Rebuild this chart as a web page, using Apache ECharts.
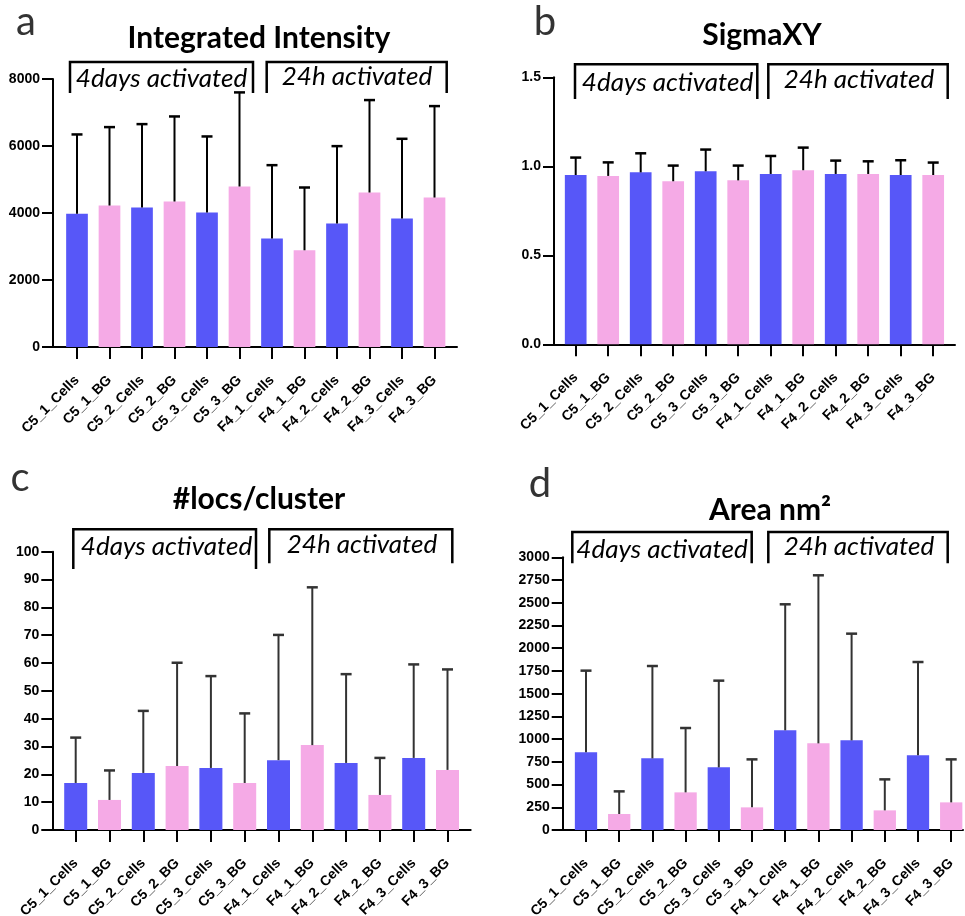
<!DOCTYPE html>
<html>
<head>
<meta charset="utf-8">
<script src="https://cdn.jsdelivr.net/npm/echarts@6/dist/echarts.min.js"></script>
<style>
html,body{margin:0;padding:0;background:#fff;}
#chart{width:965px;height:916px;}
</style>
</head>
<body>
<div id="chart"></div>
<script>
// ---- data ----
const categories = ['C5_1_Cells','C5_1_BG','C5_2_Cells','C5_2_BG','C5_3_Cells','C5_3_BG','F4_1_Cells','F4_1_BG','F4_2_Cells','F4_2_BG','F4_3_Cells','F4_3_BG'];

const intensityMean = [3980,4223,4163,4343,4014,4791,3237,2888,3685,4612,3835,4462];
const intensitySD   = [2365,2341,2490,2539,2271,2809,2191,1873,2311,2759,2380,2729];

const sigmaMean = [0.951,0.946,0.966,0.916,0.972,0.921,0.957,0.978,0.957,0.957,0.951,0.951];
const sigmaSD   = [0.098,0.076,0.107,0.088,0.122,0.083,0.101,0.127,0.075,0.071,0.083,0.070];

const locsMean = [16.9,10.8,20.5,23.0,22.3,16.9,25.1,30.5,24.1,12.6,25.9,21.6];
const locsSD   = [16.3,10.6,22.3,37.1,33.0,25.0,45.0,56.7,31.9,13.3,33.6,36.1];

const areaMean = [854,176,788,414,689,249,1097,953,986,216,821,304];
const areaSD   = [899,249,1016,708,954,528,1386,1849,1174,341,1027,473];

const panelTitles = ['Integrated Intensity','SigmaXY','#locs/cluster','Area nm\u00B2'];
const panelLetters = ['a','b','c','d'];
const groupLabels = ['4days activated','24h activated'];

const yTicksA = {min:0, max:8000, interval:2000};
const yTicksB = {min:0, max:1.5, interval:0.5};
const yTicksC = {min:0, max:100, interval:10};
const yTicksD = {min:0, max:3000, interval:250};

// ---- styles / layout ----
const BLUE = '#5757F8';
const PINK = '#F5AAE6';

const panels = [
  {mean:intensityMean, sd:intensitySD, ticks:yTicksA, fmt:v=>String(v), yAxisX:53, axisEnd:457, top:79, bottom:347, firstC:77, step:32.5, barW:21.7, errColor:'#000', fs:14,
   title:{x:259,y:38}, letter:{x:26,y:22}, br:[[70,93,93,253,62],[266.7,93,93,446.7,62]], bt:[[161.5,79],[357,77]]},
  {mean:sigmaMean, sd:sigmaSD, ticks:yTicksB, fmt:v=>v.toFixed(1), yAxisX:554, axisEnd:955, top:77.3, bottom:344.3, firstC:575.7, step:32.5, barW:21.7, errColor:'#000', fs:14,
   title:{x:762,y:35}, letter:{x:545,y:22}, br:[[575,99,99,757.3,64.3],[768.3,99,99,947.7,64.3]], bt:[[667.5,83],[859,80]]},
  {mean:locsMean, sd:locsSD, ticks:yTicksC, fmt:v=>String(v), yAxisX:52.3, axisEnd:470.7, top:551.7, bottom:830, firstC:75.7, step:33.8, barW:23, errColor:'#333', fs:14,
   title:{x:259,y:499}, letter:{x:20,y:478}, br:[[73.3,569,569,256,529.3],[269.3,563.3,563.3,452.3,529.3]], bt:[[166.5,547],[362,545]]},
  {mean:areaMean, sd:areaSD, ticks:yTicksD, fmt:v=>String(v), yAxisX:562.7, axisEnd:963, top:557.3, bottom:830, firstC:586, step:33.2, barW:22.3, errColor:'#333', fs:14,
   title:{x:770,y:510}, letter:{x:540,y:484}, br:[[572.3,563.3,563.3,751.7,532],[768.3,563.3,563.3,947.7,532]], bt:[[662,550],[859,547]]}
];

const AXFONT = 'Liberation Sans';
const grid = [], xAxis = [], yAxis = [], series = [], graphic = [];

panels.forEach((p, k) => {
  const h = p.bottom - p.top;
  const bandLeft = p.firstC - p.step/2;
  const bandW = p.step * categories.length;
  grid.push({left:p.yAxisX, top:p.top, width:p.axisEnd - p.yAxisX, height:h, containLabel:false, outerBoundsMode:'none'});
  grid.push({left:bandLeft, top:p.top, width:bandW, height:h, containLabel:false, outerBoundsMode:'none'});
  const gA = 2*k, gB = 2*k+1;
  xAxis.push({gridIndex:gA, type:'value', min:0, max:1, axisLine:{show:true, onZero:false, lineStyle:{color:'#000', width:2}},
    axisTick:{show:false}, axisLabel:{show:false}, splitLine:{show:false}});
  yAxis.push({gridIndex:gA, type:'value', min:p.ticks.min, max:p.ticks.max, interval:p.ticks.interval,
    axisLine:{show:true, lineStyle:{color:'#000', width:2}},
    axisTick:{show:true, inside:false, length:11, lineStyle:{color:'#000', width:2}},
    axisLabel:{show:true, margin:13, hideOverlap:false, formatter:p.fmt, color:'#000', fontWeight:'bold', fontSize:p.fs, fontFamily:AXFONT},
    splitLine:{show:false}});
  xAxis.push({gridIndex:gB, type:'category', data:categories, boundaryGap:true,
    axisLine:{show:false}, axisTick:{show:true, alignWithLabel:true, length:12, lineStyle:{color:'#000', width:2}},
    axisLabel:{show:true, interval:0, rotate:45, margin:31, hideOverlap:false,
      color:'#000', fontWeight:'bold', fontSize:14, fontFamily:AXFONT}});
  yAxis.push({gridIndex:gB, type:'value', min:p.ticks.min, max:p.ticks.max, interval:p.ticks.interval, show:false});

  series.push({type:'bar', xAxisIndex:gB, yAxisIndex:gB, data:p.mean, barWidth:p.barW,
    itemStyle:{color: params => params.dataIndex % 2 === 0 ? BLUE : PINK}, silent:true});
  const errColor = p.errColor;
  series.push({type:'custom', xAxisIndex:gB, yAxisIndex:gB, z:5, silent:true,
    data: categories.map((c,i) => [i, p.mean[i], p.sd[i]]),
    renderItem: (params, api) => {
      const i = api.value(0), m = api.value(1), s = api.value(2);
      const b = api.coord([i, m]);
      const t = api.coord([i, m + s]);
      return {type:'group', children:[
        {type:'line', shape:{x1:b[0], y1:b[1], x2:t[0], y2:t[1]}, style:{stroke:errColor, lineWidth:2}},
        {type:'line', shape:{x1:t[0]-5.5, y1:t[1], x2:t[0]+5.5, y2:t[1]}, style:{stroke:errColor, lineWidth:2.5}}
      ]};
    }});

  graphic.push({type:'text', x:p.title.x, y:p.title.y, style:{text:panelTitles[k], textAlign:'center', textVerticalAlign:'middle',
    font:'bold 30px Lato', fill:'#000'}});
  graphic.push({type:'text', x:p.letter.x, y:p.letter.y, style:{text:panelLetters[k], textAlign:'center', textVerticalAlign:'middle',
    font:'40px Lato', fill:'#333'}});
  p.br.forEach((b, j) => {
    graphic.push({type:'polyline', shape:{points:[[b[0], b[1]], [b[0], b[4]], [b[3], b[4]], [b[3], b[2]]]},
      style:{stroke:'#000', lineWidth:2.5, fill:null}});
    graphic.push({type:'text', x:p.bt[j][0], y:p.bt[j][1], style:{text:groupLabels[j], textAlign:'center', textVerticalAlign:'middle',
      font:'italic 26px Lato', fill:'#000'}});
  });
});

const chart = echarts.init(document.getElementById('chart'), null, {renderer:'canvas'});
chart.setOption({animation:false, backgroundColor:'#fff', grid, xAxis, yAxis, series, graphic});
</script>
</body>
</html>
